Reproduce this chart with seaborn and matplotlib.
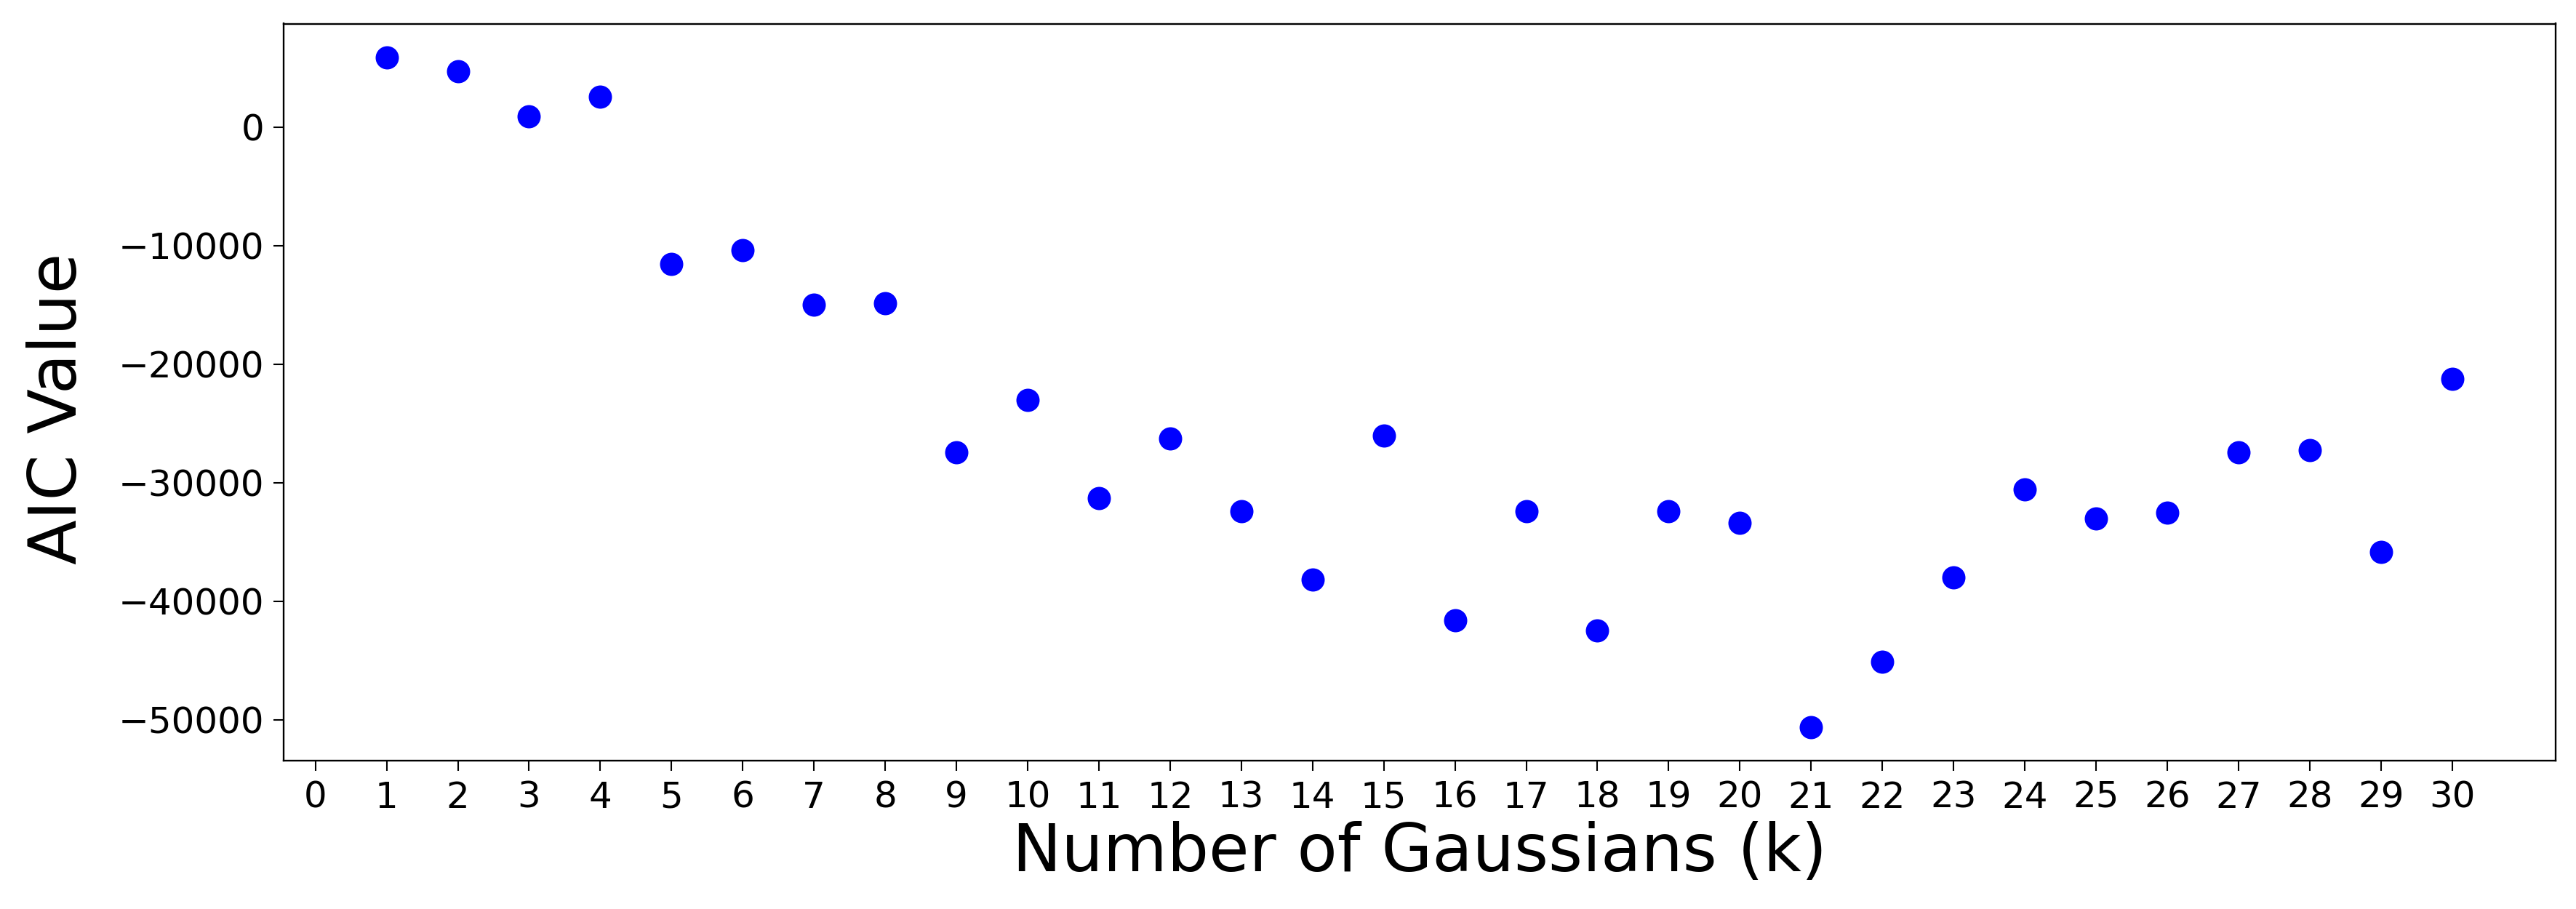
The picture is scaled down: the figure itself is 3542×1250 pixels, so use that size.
import numpy as np
import pandas as pd
import matplotlib
matplotlib.use("Agg")
import matplotlib.pyplot as plt
import seaborn as sns

# number of gaussians and the AIC value
ks = list(range(1, 31))
aic = [5900, 4730, 930, 2590, -11560, -10390, -14980, -14830,
       -27460, -23020, -31270, -26290, -32390, -38150, -26000, -41610,
       -32390, -42440, -32390, -33410, -50630, -45070, -38000, -30590,
       -33020, -32540, -27460, -27270, -35850, -21220]
xticks = list(range(0, 31))

sns.set_style("ticks")
plt.rcParams["font.family"] = ["DejaVu Sans"]

df = pd.DataFrame({"k": ks, "aic": aic})

fig, ax = plt.subplots(figsize=(35.42, 12.5), dpi=100)
fig.subplots_adjust(left=0.110, right=0.992, top=0.974, bottom=0.163)

sns.scatterplot(data=df, x="k", y="aic", color="#0000ff", s=530,
                linewidth=0, ax=ax)

ax.set_xticks(xticks)
ax.margins(x=0.05, y=0.05)
ax.tick_params(labelsize=36, length=10, width=1.5, pad=9, colors="black")
for sp in ax.spines.values():
    sp.set_visible(True)
    sp.set_color("black")
    sp.set_linewidth(1.7)

ax.set_xlabel("Number of Gaussians (k)", fontsize=65, color="black", labelpad=6)
ax.set_ylabel("AIC Value", fontsize=65, color="black", labelpad=28)
ax.yaxis.label.set_y(0.478)

fig.savefig("out.png", dpi=100)
